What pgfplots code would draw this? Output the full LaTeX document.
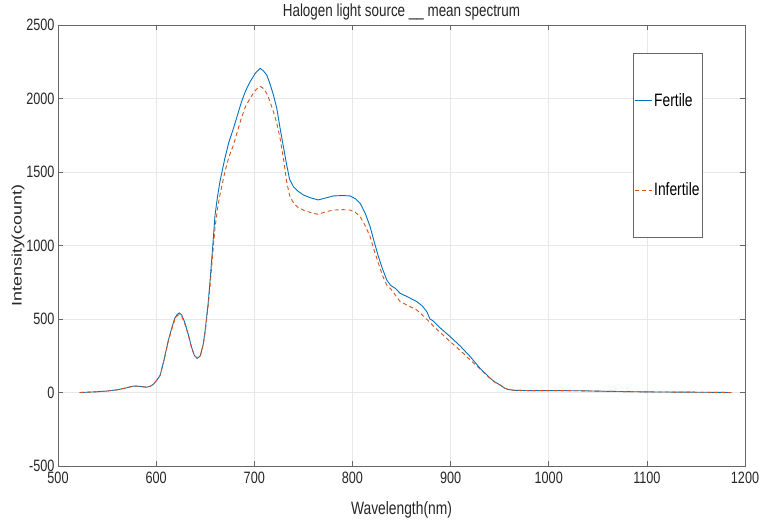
\documentclass[border=0pt]{standalone}
\usepackage{pgfplots}
\pgfplotsset{compat=1.18}
\usetikzlibrary{calc}
\usepackage{graphicx}
\usepackage{fontspec}
\setmainfont{Liberation Sans}[FakeStretch=0.77]
\newfontfamily\plainsans{Liberation Sans}
\definecolor{mblue}{rgb}{0,0.447,0.741}
\definecolor{morange}{rgb}{0.85,0.325,0.098}
\definecolor{axgray}{rgb}{0.4,0.4,0.4}
\definecolor{txt}{rgb}{0.15,0.15,0.15}
\begin{document}
\begin{tikzpicture}
\begin{axis}[
  name=ax,
  scale only axis,
  width=687bp, height=441bp,
  xmin=500, xmax=1200, ymin=-500, ymax=2500,
  xtick={500,600,...,1200},
  ytick={-500,0,...,2500},
  /pgf/number format/assume math mode=true,
  /pgf/number format/1000 sep={},
  tick align=inside,
  tick pos=both,
  major tick length=5bp,
  axis line style={axgray, line width=0.7pt},
  tick style={axgray, line width=0.6pt},
  grid=major,
  major grid style={gray!18, line width=0.5pt},
  tick label style={font=\fontsize{16.5}{18}\selectfont, text=txt},
  xticklabel style={yshift=-3bp},
  title={Halogen light source \_\_ mean spectrum},
  title style={font=\fontsize{17.5}{19}\selectfont, yshift=-5bp, text=txt},
  xlabel={Wavelength(nm)},
  ylabel={\scalebox{1}[0.77]{\plainsans Intensity(count)}},
  label style={font=\fontsize{18}{20}\selectfont, text=txt},
  xlabel style={yshift=-11bp},
  ylabel style={yshift=-5bp},
  legend style={at={(rel axis cs:0.837,0.9365)}, anchor=north west,
    draw=axgray, line width=0.6pt, inner xsep=1bp, inner ysep=38bp,
    row sep=71bp, font=\fontsize{18}{20}\selectfont},
  legend cell align=left,
  legend image code/.code={\draw[#1] (0bp,0bp) -- (17bp,0bp);},
]
\addplot[draw=mblue, line width=0.9pt] coordinates {
(522,0) (530,2) (540,5) (550,10) (560,18) (570,32) (577,44) (583,42) (590,36) (594,42) (597,55) (600,78) (604,115) (608,220) (612.5,357) (616,440) (619,505) (621.5,532) (623.7,541) (626,528) (629,480) (633,390) (636,310) (639,252) (642,232) (645,250) (648,330) (650,425) (653,607) (655,765) (657.5,980) (660,1207) (662.5,1330) (665,1434) (670,1593) (674,1700) (678.8,1797) (683,1890) (687,1978) (691,2050) (695.7,2114) (701,2171) (704,2192) (706,2205) (709,2190) (712.7,2160) (716,2100) (719.5,2024) (723,1930) (726.3,1797) (730,1660) (733,1548) (736,1450) (739.9,1400) (744,1372) (750,1344) (757,1325) (765,1310) (772,1322) (780.6,1337) (790,1340) (797.7,1337) (803,1318) (807.9,1287) (813,1220) (818,1128) (822,1030) (826.5,924) (831,835) (835,765) (839,728) (843.6,709) (848.6,675) (857,648) (865.6,618) (871,590) (875.8,550) (879,500) (882.5,486) (890,436) (899.6,380) (910,315) (920,244) (930,165) (940.4,97) (945,72) (950.6,51) (955,30) (959,20) (965,15) (980,13) (1000,13) (1030,12) (1060,8) (1100,4) (1150,2) (1186,0)
};
\addlegendentry{Fertile}
\addplot[draw=morange, line width=0.9pt, dash pattern=on 4bp off 3bp] coordinates {
(522,0) (530,2) (540,5) (550,10) (560,18) (570,32) (577,44) (583,42) (590,36) (594,42) (597,55) (600,78) (604,115) (608,220) (612.5,352) (616,432) (619,495) (621.5,522) (623.7,530) (626,518) (629,472) (633,384) (636,305) (639,250) (642,231) (645,248) (648,325) (650,415) (653,590) (655,730) (657.5,930) (660,1120) (662.5,1250) (665,1344) (670,1500) (674,1600) (678.8,1684) (683,1780) (687,1870) (691,1945) (695.7,2001) (701,2055) (704,2075) (706,2082) (709,2070) (712.7,2035) (716,1980) (719.5,1910) (723,1830) (726.3,1729) (730,1580) (733,1434) (736,1340) (740,1289) (744,1262) (750,1241) (757,1225) (765,1212) (772,1228) (780.6,1241) (790,1244) (797.7,1241) (803,1225) (808,1196) (813,1135) (818,1060) (822,970) (826.5,879) (831,790) (835,731) (840,697) (848.6,618) (857,590) (865.6,561) (874,510) (882.5,452) (890,405) (899.6,346) (910,285) (920,221) (930,160) (940.4,95) (945,70) (950.6,50) (955,30) (959,20) (965,15) (980,13) (1000,13) (1030,12) (1060,8) (1100,4) (1150,2) (1186,0)
};
\addlegendentry{Infertile}
\end{axis}
\pgfresetboundingbox
\path[use as bounding box] ($(ax.south west)+(-58bp,-55bp)$) rectangle ($(ax.north east)+(17bp,25bp)$);
\end{tikzpicture}
\end{document}
